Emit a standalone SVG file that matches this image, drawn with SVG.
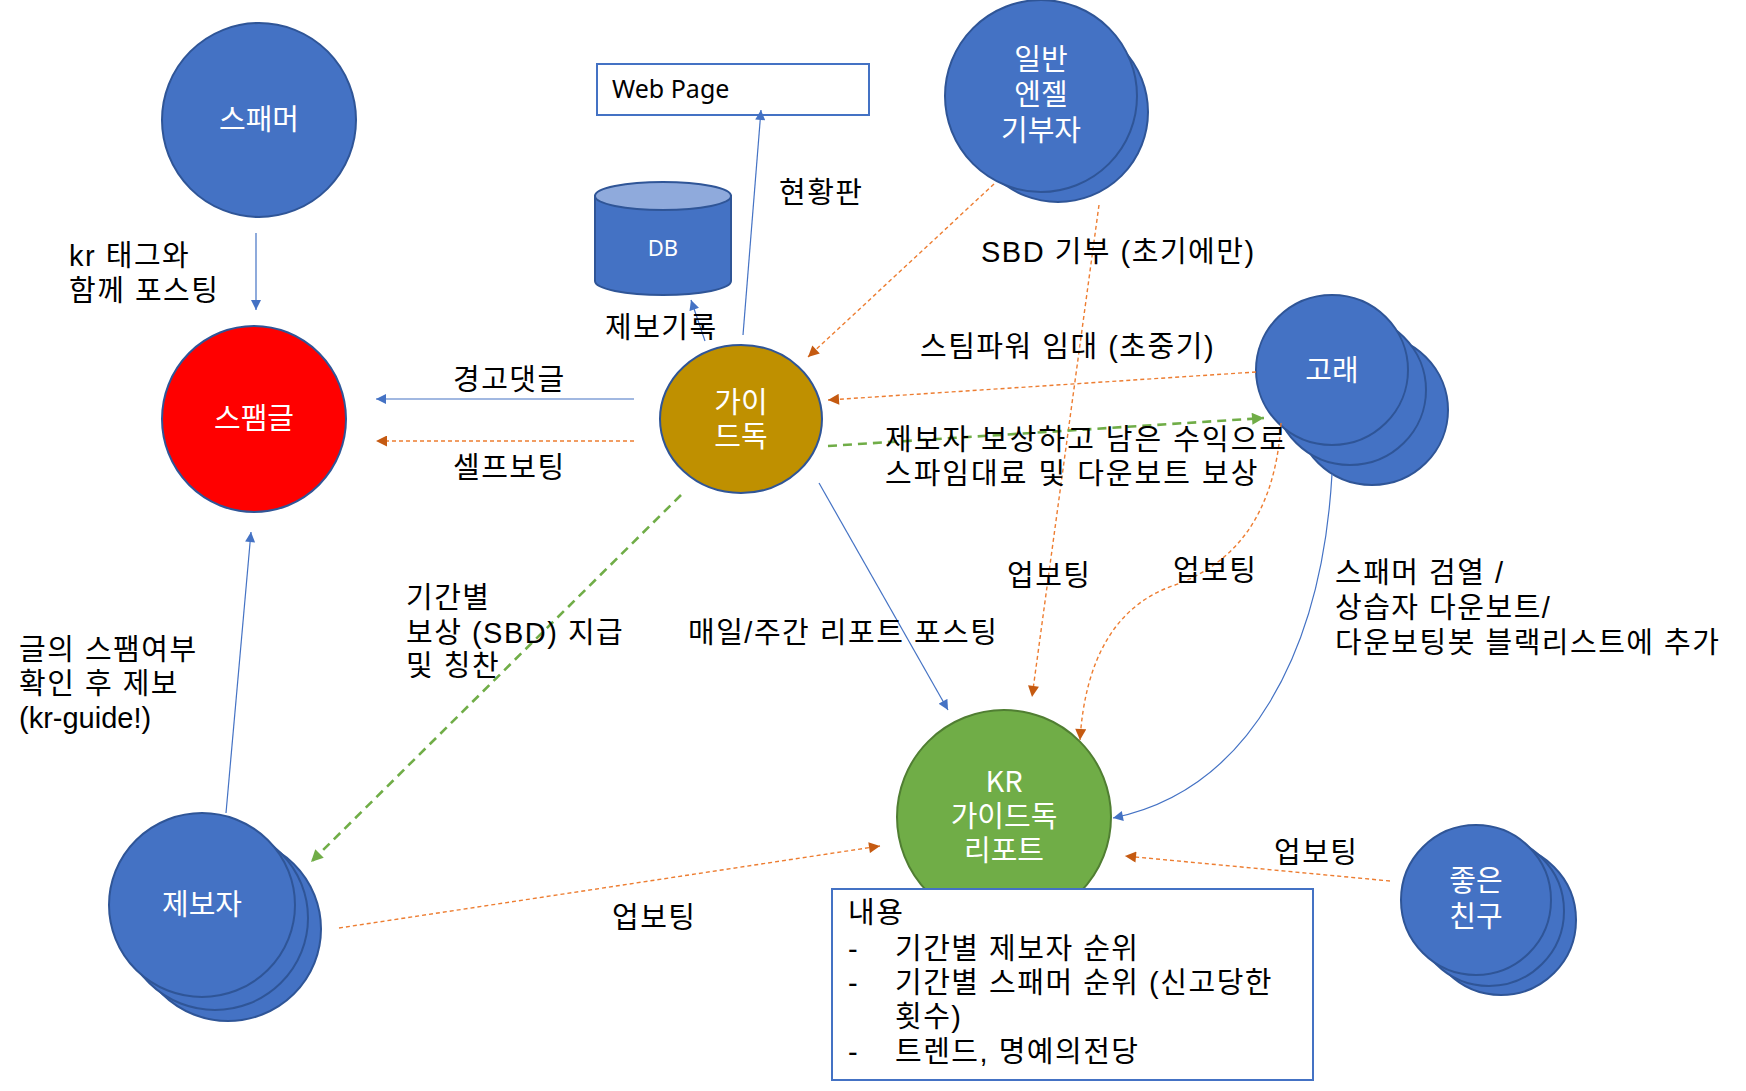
<svg xmlns="http://www.w3.org/2000/svg" width="1746" height="1091" viewBox="0 0 1746 1091">
<style>
.bn{fill:#4472C4;stroke:#2F5597;stroke-width:2}
.nt{fill:#fff;font-family:"Noto Sans CJK KR","Noto Sans",sans-serif;font-size:29px;text-anchor:middle}
.lb{fill:#000;font-family:"Liberation Sans","Noto Sans CJK KR",sans-serif;font-size:29px;letter-spacing:1.5px}
.cb{fill:none;stroke:#4472C4;stroke-width:1.2}
.co{fill:none;stroke:#ED7D31;stroke-width:1.4;stroke-dasharray:4 3}
.cg{fill:none;stroke:#70AD47;stroke-width:2.6;stroke-dasharray:9 6}
</style>
<defs>
<marker id="ab" viewBox="0 0 10 10" refX="10" refY="5" markerWidth="11" markerHeight="10" orient="auto" markerUnits="userSpaceOnUse"><path d="M0,0 L10,5 L0,10 z" fill="#4472C4"/></marker>
<marker id="ao" viewBox="0 0 10 10" refX="10" refY="5" markerWidth="12" markerHeight="11" orient="auto" markerUnits="userSpaceOnUse"><path d="M0,0 L10,5 L0,10 z" fill="#C55A11"/></marker>
<marker id="ag" viewBox="0 0 10 10" refX="10" refY="5" markerWidth="13" markerHeight="12" orient="auto" markerUnits="userSpaceOnUse"><path d="M0,0 L10,5 L0,10 z" fill="#70AD47"/></marker>
</defs>
<rect width="1746" height="1091" fill="#fff"/>

<g id="spammer">
<ellipse class="bn" cx="259" cy="120" rx="97" ry="97"/>
<text class="nt" x="259" y="130">스패머</text>
</g>

<g id="spampost">
<ellipse cx="254" cy="419" rx="92" ry="93" fill="#FF0000" stroke="#2F5597" stroke-width="2"/>
<text class="nt" x="254" y="429">스팸글</text>
</g>

<g id="webpage">
<rect x="597" y="64" width="272" height="51" fill="#fff" stroke="#4472C4" stroke-width="2"/>
<text x="612" y="98" font-family="Noto Sans, sans-serif" font-size="25" fill="#000">Web Page</text>
</g>

<g id="db">
<path d="M595,196 L595,281 A68,14 0 0 0 731,281 L731,196 Z" fill="#4472C4" stroke="#2F5597" stroke-width="2"/>
<ellipse cx="663" cy="196" rx="68" ry="14" fill="#8FAADC" stroke="#2F5597" stroke-width="2"/>
<text x="663" y="256" font-family="Noto Sans, sans-serif" font-size="22" fill="#fff" text-anchor="middle">DB</text>
</g>

<g id="guidedog">
<ellipse cx="741" cy="419" rx="81" ry="74" fill="#BF9000" stroke="#2F5597" stroke-width="2"/>
<text class="nt" x="741" y="413">가이</text>
<text class="nt" x="741" y="447">드독</text>
</g>

<g id="angel">
<ellipse class="bn" cx="1058" cy="112" rx="90" ry="90"/>
<ellipse class="bn" cx="1041" cy="96" rx="96" ry="96"/>
<text class="nt" x="1041" y="70">일반</text>
<text class="nt" x="1041" y="105">엔젤</text>
<text class="nt" x="1041" y="141">기부자</text>
</g>

<g id="whale">
<ellipse class="bn" cx="1372" cy="410" rx="76" ry="75"/>
<ellipse class="bn" cx="1350" cy="390" rx="76" ry="75"/>
<ellipse class="bn" cx="1332" cy="370" rx="76" ry="75"/>
<text class="nt" x="1332" y="381">고래</text>
</g>

<g id="reporter">
<ellipse class="bn" cx="228" cy="929" rx="93" ry="92"/>
<ellipse class="bn" cx="215" cy="918" rx="93" ry="92"/>
<ellipse class="bn" cx="202" cy="905" rx="93" ry="92"/>
<text class="nt" x="202" y="915">제보자</text>
</g>

<g id="goodfriend">
<ellipse class="bn" cx="1501" cy="920" rx="75" ry="75"/>
<ellipse class="bn" cx="1489" cy="911" rx="75" ry="75"/>
<ellipse class="bn" cx="1476" cy="900" rx="75" ry="75"/>
<text class="nt" x="1476" y="891">좋은</text>
<text class="nt" x="1476" y="927">친구</text>
</g>

<g id="krreport">
<ellipse cx="1004" cy="817" rx="107" ry="107" fill="#70AD47" stroke="#507E32" stroke-width="2"/>
<text class="nt" x="1004" y="792">KR</text>
<text class="nt" x="1004" y="827">가이드독</text>
<text class="nt" x="1004" y="861">리포트</text>
</g>

<g id="contentbox">
<rect x="832" y="889" width="481" height="191" fill="#fff" stroke="#4472C4" stroke-width="2"/>
<text class="lb" x="848" y="923">내용</text>
<text class="lb" x="848" y="959">-</text>
<text class="lb" x="895" y="959">기간별 제보자 순위</text>
<text class="lb" x="848" y="993">-</text>
<text class="lb" x="895" y="993">기간별 스패머 순위 (신고당한</text>
<text class="lb" x="895" y="1027">횟수)</text>
<text class="lb" x="848" y="1062">-</text>
<text class="lb" x="895" y="1062">트렌드, 명예의전당</text>
</g>

<g id="connectors">
<path class="cb" d="M256,233 L256,310" marker-end="url(#ab)"/>
<path class="cb" d="M634,399 L376,399" marker-end="url(#ab)"/>
<path class="co" d="M634,441 L376,441" marker-end="url(#ao)"/>
<path class="cb" d="M226,813 L251,532" marker-end="url(#ab)"/>
<path class="cb" d="M705,341 L691,300" marker-end="url(#ab)"/>
<path class="cb" d="M743,335 L761,110" marker-end="url(#ab)"/>
<path class="co" d="M994,184 L808,357" marker-end="url(#ao)"/>
<path class="co" d="M1099,205 L1032,697" marker-end="url(#ao)"/>
<path class="co" d="M1256,372 L828,400" marker-end="url(#ao)"/>
<path class="cg" d="M828,446 L1264,418" marker-end="url(#ag)"/>
<path class="cg" d="M681,495 L311,862" marker-end="url(#ag)"/>
<path class="cb" d="M819,483 L948,710" marker-end="url(#ab)"/>
<path class="cb" d="M1332,474 C1322,650 1250,790 1113,818" marker-end="url(#ab)"/>
<path class="co" d="M1281,423 C1275,520 1230,565 1175,585 C1115,605 1085,660 1080,740" marker-end="url(#ao)"/>
<path class="co" d="M339,928 L880,846" marker-end="url(#ao)"/>
<path class="co" d="M1390,881 L1125,856" marker-end="url(#ao)"/>
</g>

<g id="labels">
<text class="lb" x="69" y="266">kr 태그와</text>
<text class="lb" x="69" y="301">함께 포스팅</text>
<text class="lb" x="453" y="390">경고댓글</text>
<text class="lb" x="453" y="478">셀프보팅</text>
<text class="lb" x="605" y="338">제보기록</text>
<text class="lb" x="779" y="203">현황판</text>
<text class="lb" x="981" y="262">SBD 기부 (초기에만)</text>
<text class="lb" x="920" y="357">스팀파워 임대 (초중기)</text>
<text class="lb" x="885" y="450" style="letter-spacing:2px">제보자 보상하고 남은 수익으로</text>
<text class="lb" x="885" y="484" style="letter-spacing:2px">스파임대료 및 다운보트 보상</text>
<text class="lb" x="406" y="608">기간별</text>
<text class="lb" x="406" y="643">보상 (SBD) 지급</text>
<text class="lb" x="406" y="676">및 칭찬</text>
<text class="lb" x="19" y="660">글의 스팸여부</text>
<text class="lb" x="19" y="694">확인 후 제보</text>
<text class="lb" x="19" y="728" style="letter-spacing:0">(kr-guide!)</text>
<text class="lb" x="688" y="643">매일/주간 리포트 포스팅</text>
<text class="lb" x="1007" y="586">업보팅</text>
<text class="lb" x="1173" y="581">업보팅</text>
<text class="lb" x="1335" y="583">스패머 검열 /</text>
<text class="lb" x="1335" y="618">상습자 다운보트/</text>
<text class="lb" x="1335" y="653">다운보팅봇 블랙리스트에 추가</text>
<text class="lb" x="612" y="928">업보팅</text>
<text class="lb" x="1274" y="863">업보팅</text>
</g>
</svg>
